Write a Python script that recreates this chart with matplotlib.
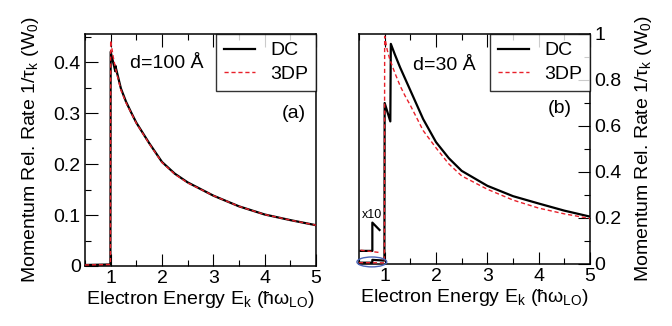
import matplotlib
matplotlib.use("Agg")
import matplotlib.pyplot as plt
from matplotlib.patches import Ellipse
from matplotlib.ticker import MultipleLocator

plt.rcParams['font.family'] = ['Liberation Sans', 'DejaVu Sans']
plt.rcParams['mathtext.fontset'] = 'custom'
plt.rcParams['mathtext.rm'] = 'Liberation Sans'
plt.rcParams['mathtext.it'] = 'Liberation Sans'
plt.rcParams['mathtext.default'] = 'regular'

# ---- panel (a): d = 100 A ----
a_dc_x = [0.5, 0.995, 1.0, 1.09, 1.09, 1.1, 1.2, 1.3, 1.4, 1.5, 1.75, 2.0, 2.25, 2.5, 3.0, 3.5, 4.0, 4.5, 5.0]
a_dc_y = [0.002, 0.003, 0.42, 0.382, 0.393, 0.389, 0.348, 0.322, 0.301, 0.281, 0.241, 0.204, 0.181, 0.164, 0.138, 0.117, 0.101, 0.09, 0.08]
a_3dp_x = [0.5, 0.995, 1.0, 1.05, 1.1, 1.2, 1.3, 1.4, 1.5, 1.75, 2.0, 2.25, 2.5, 3.0, 3.5, 4.0, 4.5, 5.0]
a_3dp_y = [0.002, 0.003, 0.442, 0.41, 0.385, 0.345, 0.32, 0.30, 0.28, 0.24, 0.203, 0.18, 0.163, 0.138, 0.117, 0.101, 0.09, 0.08]

# ---- panel (b): d = 30 A ----
b_dc_x = [0.5, 0.76, 0.76, 0.995, 1.0, 1.11, 1.12, 1.2, 1.3, 1.4, 1.5, 1.75, 2.0, 2.25, 2.5, 3.0, 3.5, 4.0, 4.5, 5.0]
b_dc_y = [0.0057, 0.0057, 0.018, 0.0148, 0.70, 0.62, 0.957, 0.91, 0.855, 0.805, 0.755, 0.63, 0.53, 0.46, 0.405, 0.34, 0.295, 0.263, 0.232, 0.206]
b_3dp_x = [0.5, 0.995, 1.0, 1.05, 1.1, 1.2, 1.3, 1.4, 1.5, 1.75, 2.0, 2.25, 2.5, 3.0, 3.5, 4.0, 4.5, 5.0]
b_3dp_y = [0.006, 0.005, 0.99, 0.93, 0.89, 0.83, 0.775, 0.73, 0.69, 0.58, 0.505, 0.435, 0.383, 0.325, 0.278, 0.243, 0.218, 0.198]

# x10 magnified pre-threshold detail
x10_dc_x = [0.53, 0.76, 0.76, 0.90]
x10_dc_y = [0.057, 0.057, 0.18, 0.148]
x10_3dp_x = [0.53, 0.90]
x10_3dp_y = [0.06, 0.05]

xlabel = 'Electron Energy E$_{k}$ (ħω$_{LO}$)'
ylabel = 'Momentum Rel. Rate 1/τ$_{k}$ (W$_{0}$)'

fig = plt.figure(figsize=(6.72, 3.26), dpi=100)
axa = fig.add_axes([85/672, 60/326, 231/672, 232/326])
axb = fig.add_axes([359/672, 62/326, 231/672, 230/326])

FS = 14

def style(ax, right=False):
    for s in ax.spines.values():
        s.set_linewidth(1.1)
    ax.set_xlim(0.5, 5)
    ax.xaxis.set_major_locator(MultipleLocator(1))
    ax.xaxis.set_minor_locator(MultipleLocator(0.5))
    ax.tick_params(axis='x', which='both', direction='in', top=True, bottom=True,
                   labelsize=FS, width=0.8, pad=3)
    ax.tick_params(axis='x', which='major', length=9)
    ax.tick_params(axis='x', which='minor', length=4.5)
    if right:
        ax.tick_params(axis='y', which='both', direction='in', left=False, right=True,
                       labelleft=False, labelright=True, labelsize=FS, width=0.8, pad=3)
    else:
        ax.tick_params(axis='y', which='both', direction='in', left=True, right=False,
                       labelsize=FS, width=0.8, pad=3)
    ax.tick_params(axis='y', which='major', length=9)
    ax.tick_params(axis='y', which='minor', length=4.5)
    ax.set_xlabel(xlabel, fontsize=FS, labelpad=1)

def legend(ax):
    leg = ax.legend(loc='upper right', fontsize=FS, frameon=True, fancybox=False,
                    edgecolor='black', borderaxespad=0, handlelength=1.6,
                    borderpad=0.4, labelspacing=0.3, handletextpad=0.8)
    leg.get_frame().set_linewidth(1.0)

RED = '#e8202a'
DASH = (0, (3, 2))

# panel (a)
axa.plot(a_dc_x, a_dc_y, color='black', lw=1.6, label='DC', zorder=3)
axa.plot(a_3dp_x, a_3dp_y, color=RED, lw=1.0, ls=DASH, label='3DP', zorder=4)
style(axa)
axa.set_ylim(0, 0.455)
axa.yaxis.set_minor_locator(MultipleLocator(0.05))
axa.set_yticks([0, 0.1, 0.2, 0.3, 0.4])
axa.set_yticklabels(['0', '0.1', '0.2', '0.3', '0.4'])
axa.set_ylabel(ylabel, fontsize=FS, labelpad=9)
axa.text(1.37, 0.398, 'd=100 Å', fontsize=FS, va='center', ha='left')
axa.text(4.8, 0.30, '(a)', fontsize=FS, va='center', ha='right')
legend(axa)

# panel (b)
axb.plot(b_dc_x, b_dc_y, color='black', lw=1.6, label='DC', zorder=3)
axb.plot(b_3dp_x, b_3dp_y, color=RED, lw=1.0, ls=DASH, label='3DP', zorder=4)
axb.plot(x10_dc_x, x10_dc_y, color='black', lw=1.6, zorder=3)
axb.plot(x10_3dp_x, x10_3dp_y, color=RED, lw=1.0, ls=DASH, zorder=4)
style(axb, right=True)
axb.set_ylim(0, 1)
axb.yaxis.set_minor_locator(MultipleLocator(0.1))
axb.set_yticks([0, 0.2, 0.4, 0.6, 0.8, 1.0])
axb.set_yticklabels(['0', '0.2', '0.4', '0.6', '0.8', '1'])
axb.yaxis.set_label_position('right')
axb.set_ylabel(ylabel, fontsize=FS, labelpad=8)
axb.text(1.545, 0.865, 'd=30 Å', fontsize=FS, va='center', ha='left')
axb.text(4.64, 0.678, '(b)', fontsize=FS, va='center', ha='right')
axb.text(0.75, 0.213, 'x10', fontsize=9, va='center', ha='center')
axb.add_patch(Ellipse((0.75, 0.009), 0.58, 0.043, fill=False, edgecolor='#4a64b8',
                      lw=1.0, clip_on=False, zorder=5))
legend(axb)

fig.savefig('out.png', dpi=100)
